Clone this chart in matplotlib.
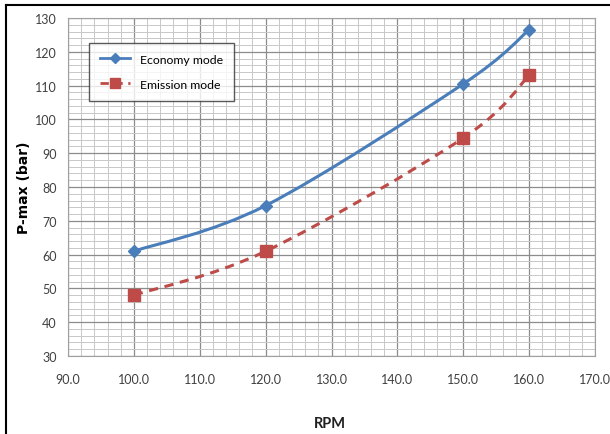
import matplotlib.pyplot as plt
from matplotlib.path import Path
from matplotlib.patches import PathPatch
from matplotlib.lines import Line2D

rpm = [100, 120, 150, 160]
economy = [61, 74.5, 110.5, 126.5]
emission = [48, 61, 94.5, 113]

blue = '#4A7EBB'
red = '#BE4B48'


def smooth_path(xs, ys):
    # excel-style smoothed line as cubic bezier segments
    pts = list(zip(xs, ys))
    verts = [pts[0]]
    codes = [Path.MOVETO]
    n = len(pts)
    for i in range(n - 1):
        p0 = pts[i - 1] if i > 0 else pts[i]
        p1 = pts[i]
        p2 = pts[i + 1]
        p3 = pts[i + 2] if i + 2 < n else pts[i + 1]
        c1 = (p1[0] + (p2[0] - p0[0]) / 6.0, p1[1] + (p2[1] - p0[1]) / 6.0)
        c2 = (p2[0] - (p3[0] - p1[0]) / 6.0, p2[1] - (p3[1] - p1[1]) / 6.0)
        verts += [c1, c2, p2]
        codes += [Path.CURVE4] * 3
    return Path(verts, codes)


plt.rcParams['font.family'] = ['Lato', 'DejaVu Sans']

fig = plt.figure(figsize=(6.1, 4.35), dpi=100)
ax = fig.add_axes([0.1115, 0.1793, 0.8639, 0.777])

ax.set_xlim(90, 170)
ax.set_ylim(30, 130)
ax.set_xticks(range(90, 171, 10))
ax.set_xticklabels(['%.1f' % v for v in range(90, 171, 10)])
ax.set_yticks(range(30, 131, 10))
ax.set_xticks(range(90, 171, 2), minor=True)
ax.set_yticks(range(30, 131, 2), minor=True)
ax.grid(which='major', color='#8c8c8c', linewidth=0.9)
ax.grid(which='minor', color='#c8c8c8', linewidth=0.7)
ax.set_axisbelow(True)
ax.tick_params(which='both', length=0, labelsize=9, colors='#404040', pad=8)
ax.tick_params(axis='x', pad=12)
for s in ax.spines.values():
    s.set_color('#a0a0a0')
    s.set_linewidth(0.8)

ax.add_patch(PathPatch(smooth_path(rpm, economy), facecolor='none',
                       edgecolor=blue, linewidth=2.2, zorder=3))
ax.add_patch(PathPatch(smooth_path(rpm, emission), facecolor='none',
                       edgecolor=red, linewidth=2.2, linestyle=(0, (3, 2.2)),
                       zorder=3))
ax.plot(rpm, economy, linestyle='none', marker='D', markersize=6,
        color=blue, zorder=4)
ax.plot(rpm, emission, linestyle='none', marker='s', markersize=8,
        color=red, zorder=4)

handles = [Line2D([], [], color=blue, linewidth=2, marker='D', markersize=5),
           Line2D([], [], color=red, linewidth=2, linestyle=(0, (3, 2)),
                  marker='s', markersize=7)]
leg = ax.legend(handles, ['Economy mode', 'Emission mode'],
                loc='upper left', bbox_to_anchor=(0.028, 0.945),
                fontsize=8.8, frameon=True, fancybox=False,
                handlelength=2.5, borderpad=0.9, labelspacing=1.15,
                edgecolor='#303030')
leg.get_frame().set_linewidth(1.0)

ax.set_ylabel('P-max (bar)', fontsize=10, fontweight='bold',
              family=['DejaVu Sans'], labelpad=3)
fig.text(0.54, 0.025, 'RPM', fontsize=10.5, fontweight='bold', ha='center',
         va='center', color='#202020')

# outer frame (top and left edges)
fig.add_artist(Line2D([6 / 610, 1], [1 - 6 / 435, 1 - 6 / 435],
                      transform=fig.transFigure, color='black', linewidth=1.5))
fig.add_artist(Line2D([6 / 610, 6 / 610], [0, 1 - 6 / 435],
                      transform=fig.transFigure, color='black', linewidth=1.5))

fig.savefig('out.png', dpi=100)
